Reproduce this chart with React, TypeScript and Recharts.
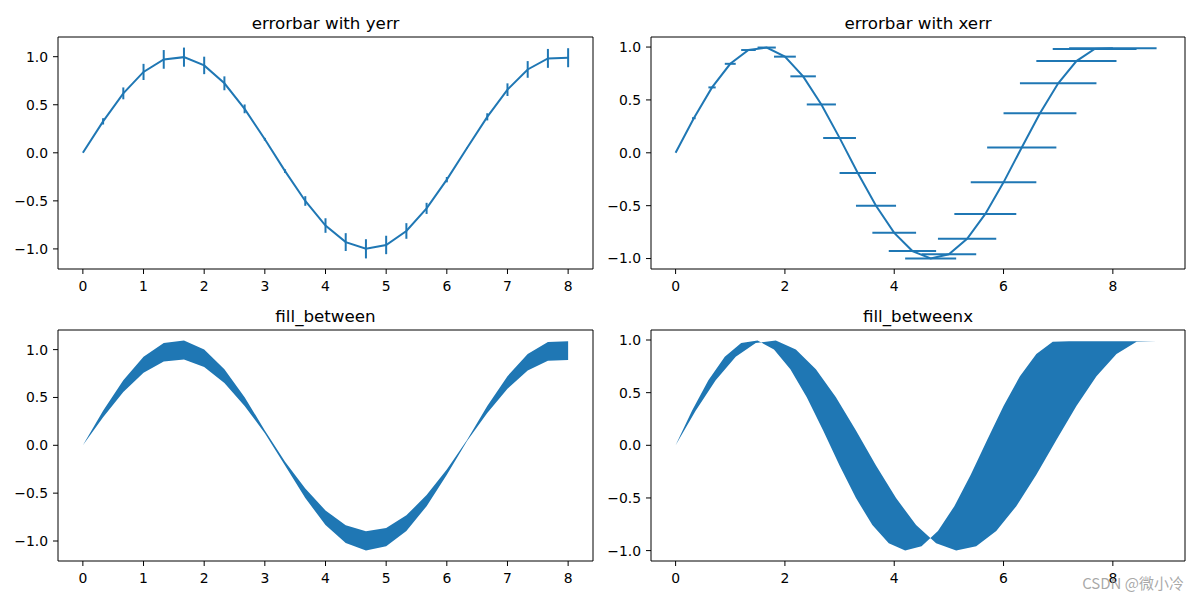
import { ComposedChart, Line, Scatter, Area, XAxis, YAxis, ErrorBar, ReferenceLine } from 'recharts';

// sample points x = 0 .. 8 (25 points), y = sin(x)
const xs = [0, 0.3333, 0.6667, 1, 1.3333, 1.6667, 2, 2.3333, 2.6667, 3, 3.3333, 3.6667, 4, 4.3333, 4.6667, 5, 5.3333, 5.6667, 6, 6.3333, 6.6667, 7, 7.3333, 7.6667, 8];
const ys = [0, 0.3272, 0.6184, 0.8415, 0.9719, 0.9954, 0.9093, 0.7231, 0.4573, 0.1411, -0.1906, -0.5013, -0.7568, -0.929, -0.999, -0.9589, -0.8133, -0.5782, -0.2794, 0.0501, 0.3742, 0.657, 0.8675, 0.9825, 0.9894];
const yerr = [0, 0.0327, 0.0618, 0.0841, 0.0972, 0.0995, 0.0909, 0.0723, 0.0457, 0.0141, 0.0191, 0.0501, 0.0757, 0.0929, 0.0999, 0.0959, 0.0813, 0.0578, 0.0279, 0.005, 0.0374, 0.0657, 0.0868, 0.0983, 0.0989];
const xerr = [0, 0.0333, 0.0667, 0.1, 0.1333, 0.1667, 0.2, 0.2333, 0.2667, 0.3, 0.3333, 0.3667, 0.4, 0.4333, 0.4667, 0.5, 0.5333, 0.5667, 0.6, 0.6333, 0.6667, 0.7, 0.7333, 0.7667, 0.8];

const xTicksA = [0, 1, 2, 3, 4, 5, 6, 7, 8];
const xTicksB = [0, 2, 4, 6, 8];
const yTicks = [-1, -0.5, 0, 0.5, 1];
const titles = ['errorbar with yerr', 'errorbar with xerr', 'fill_between', 'fill_betweenx'];

const data = xs.map((x, i) => ({
  x,
  y: ys[i],
  yerr: yerr[i],
  xerr: xerr[i],
  yr: [ys[i] - yerr[i], ys[i] + yerr[i]],
  xr: [x - xerr[i], x + xerr[i]],
}));

const C = '#1f77b4';
const tickFont = { fill: '#000', fontSize: 13.9, fontFamily: 'DejaVu Sans' };
const yFmt = (v: number) => (v < 0 ? '\u2212' : '') + Math.abs(v).toFixed(1);

const domA: [number, number] = [-0.41, 8.41];
const domB: [number, number] = [-0.45, 9.32];
const domYA: [number, number] = [-1.209, 1.205];
const domYB: [number, number] = [-1.0987, 1.0951];

// the main x/y axes plus the top/right spines
function axes(xDom: [number, number], yDom: [number, number], xTicks: number[], yw: number, xh: number, yKey?: string, rev?: boolean) {
  return [
    <XAxis key="x" dataKey="x" type="number" domain={xDom} allowDataOverflow ticks={xTicks} interval={0}
      height={xh} tick={tickFont} tickSize={5} tickMargin={7}
      axisLine={{ stroke: '#000', strokeWidth: 1 }} tickLine={{ stroke: '#000' }} />,
    <YAxis key="y" dataKey={yKey} type="number" domain={yDom} allowDataOverflow ticks={yTicks} interval={0}
      reversed={rev} width={yw} tick={tickFont} tickSize={5} tickMargin={5} tickFormatter={yFmt}
      axisLine={{ stroke: '#000', strokeWidth: 1 }} tickLine={{ stroke: '#000' }} />,
    <ReferenceLine key="top" y={yDom[1]} stroke="#000" strokeWidth={1} ifOverflow="visible" />,
    <ReferenceLine key="right" x={xDom[1]} stroke="#000" strokeWidth={1} ifOverflow="visible" />,
  ];
}

const box = (left: number, top: number): React.CSSProperties => ({ position: 'absolute', left, top });

export default function App() {
  return (
    <div style={{ position: 'absolute', left: 0, top: 0, width: 1200, height: 600, background: '#fff' }}>
      <div style={box(0, 0)}>
        <ComposedChart width={600} height={300} data={data} margin={{ top: 37, right: 7, bottom: 0, left: 0 }}>
          {axes(domA, domYA, xTicksA, 58, 31)}
          <Line dataKey="y" type="linear" stroke={C} strokeWidth={2} dot={false} isAnimationActive={false}>
            <ErrorBar dataKey="yerr" direction="y" width={0} stroke={C} strokeWidth={2} />
          </Line>
        </ComposedChart>
      </div>
      <div style={box(600, 0)}>
        <ComposedChart width={600} height={300} data={data} margin={{ top: 37, right: 15, bottom: 0, left: 0 }}>
          {axes(domB, domYB, xTicksB, 51, 31, 'y')}
          <Scatter data={data} dataKey="y" fill={C} line={{ stroke: C, strokeWidth: 2 }} lineType="joint"
            shape={() => <g />} isAnimationActive={false}>
            <ErrorBar dataKey="xerr" direction="x" width={0} stroke={C} strokeWidth={2} />
          </Scatter>
        </ComposedChart>
      </div>
      <div style={box(0, 300)}>
        <ComposedChart width={600} height={300} data={data} margin={{ top: 30, right: 7, bottom: 0, left: 0 }}>
          {axes(domA, domYA, xTicksA, 58, 39)}
          <Area dataKey="yr" type="linear" stroke="none" fill={C} fillOpacity={1} isAnimationActive={false} />
        </ComposedChart>
      </div>
      <div style={box(600, 300)}>
        <ComposedChart layout="vertical" width={600} height={300} data={data} margin={{ top: 30, right: 15, bottom: 0, left: 0 }}>
          {axes(domB, domYB, xTicksB, 51, 39, 'y', true)}
          <Area dataKey="xr" type="linear" stroke="none" fill={C} fillOpacity={1} isAnimationActive={false} />
        </ComposedChart>
      </div>
      <svg width={1200} height={600} style={{ position: 'absolute', left: 0, top: 0, pointerEvents: 'none' }}>
        <g fontFamily="DejaVu Sans" fontSize={16.7} fill="#000" textAnchor="middle">
          <text x={325.5} y={29}>{titles[0]}</text>
          <text x={918} y={29}>{titles[1]}</text>
          <text x={325.5} y={322}>{titles[2]}</text>
          <text x={918} y={322}>{titles[3]}</text>
        </g>
        <text x={1184} y={589} textAnchor="end" fontFamily="Noto Sans CJK SC" fontSize={15} fill="#999" fillOpacity={0.85}>
          CSDN @微小冷
        </text>
      </svg>
    </div>
  );
}
